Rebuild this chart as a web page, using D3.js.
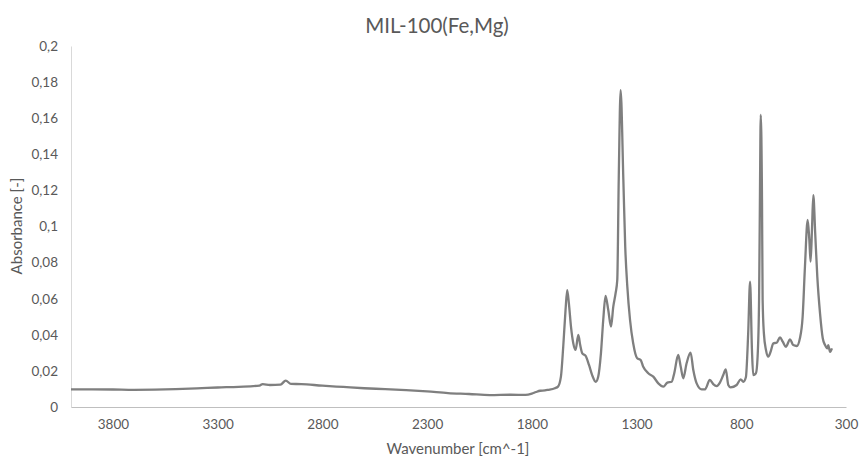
<!DOCTYPE html>
<html>
<head>
<meta charset="utf-8">
<script src="https://cdn.jsdelivr.net/npm/d3@7"></script>
<style>
  html, body { margin: 0; padding: 0; background: #fff; }
  svg { display: block; font-family: Lato, "Open Sans", sans-serif; }
</style>
</head>
<body>
<svg id="chart" width="862" height="460"></svg>
<script>
// FTIR spectrum of MIL-100(Fe,Mg): wavenumber (cm^-1) and absorbance
const wavenumber = [
  4000, 3900, 3800, 3700, 3600, 3500, 3400, 3300, 3200, 3100, 3085, 3050, 3000, 2975, 2950, 2900,
  2800, 2700, 2600, 2500, 2400, 2300, 2200, 2100, 2000, 1900, 1830, 1800, 1780, 1760, 1737, 1723,
  1690, 1675, 1661, 1650, 1639, 1631, 1623, 1613, 1602, 1591, 1578, 1569, 1559, 1543, 1527, 1512,
  1495, 1483, 1470, 1459, 1448, 1435, 1422, 1411, 1400, 1392, 1385, 1376, 1363, 1354, 1344, 1331,
  1316, 1297, 1280, 1268, 1244, 1220, 1196, 1172, 1153, 1132, 1120, 1101, 1089, 1077, 1061, 1042,
  1029, 1013, 989, 973, 950, 934, 917, 902, 886, 874, 862, 851, 822, 803, 790, 778,
  767, 758, 749, 743, 730, 722, 715, 711, 707, 701, 698, 692, 682, 671, 660, 647,
  631, 615, 602, 587, 567, 552, 535, 520, 507, 496, 483, 475, 469, 462, 456, 447,
  437, 424, 411, 400, 389, 385, 376, 367
];
const absorbance = [
  0.0098, 0.0098, 0.0097, 0.0095, 0.0096, 0.0099, 0.0103, 0.0108, 0.0112, 0.0119, 0.0127, 0.0122, 0.0124, 0.0146, 0.0128, 0.0127,
  0.0118, 0.0111, 0.0104, 0.0099, 0.0093, 0.0086, 0.0077, 0.0072, 0.0066, 0.0068, 0.0067, 0.0074, 0.0083, 0.0090, 0.0092, 0.0095,
  0.0104, 0.0113, 0.0168, 0.0334, 0.0537, 0.0648, 0.0574, 0.0445, 0.0353, 0.0316, 0.0399, 0.0343, 0.0297, 0.0283, 0.0233, 0.0177,
  0.0140, 0.0168, 0.0297, 0.0482, 0.0615, 0.0537, 0.0445, 0.0556, 0.0630, 0.0704, 0.1260, 0.1756, 0.1260, 0.0888, 0.0667, 0.0482,
  0.0353, 0.0270, 0.0260, 0.0223, 0.0187, 0.0168, 0.0131, 0.0113, 0.0135, 0.0140, 0.0187, 0.0288, 0.0223, 0.0159, 0.0242, 0.0301,
  0.0205, 0.0131, 0.0098, 0.0098, 0.0150, 0.0127, 0.0116, 0.0135, 0.0177, 0.0209, 0.0122, 0.0109, 0.0122, 0.0153, 0.0140, 0.0165,
  0.0408, 0.0694, 0.0316, 0.0177, 0.0187, 0.0279, 0.0593, 0.1147, 0.1618, 0.1147, 0.0593, 0.0408, 0.0316, 0.0279, 0.0306, 0.0353,
  0.0356, 0.0386, 0.0362, 0.0334, 0.0375, 0.0343, 0.0338, 0.0381, 0.0500, 0.0777, 0.1036, 0.0925, 0.0805, 0.0999, 0.1174, 0.0962,
  0.0722, 0.0519, 0.0381, 0.0343, 0.0325, 0.0343, 0.0306, 0.0325
];
const xTicks = [3800, 3300, 2800, 2300, 1800, 1300, 800, 300];
const yTicks = [0, 0.02, 0.04, 0.06, 0.08, 0.1, 0.12, 0.14, 0.16, 0.18, 0.2];

const titleText = "MIL-100(Fe,Mg)";
const xTitle = "Wavenumber [cm^-1]";
const yTitle = "Absorbance [-]";

const svg = d3.select("#chart");
const plot = { left: 71, right: 846, top: 46, bottom: 407 };
const textColor = "#595959";

const x = d3.scaleLinear().domain([4000, 300]).range([plot.left, plot.right]);
const y = d3.scaleLinear().domain([0, 0.2]).range([plot.bottom, plot.top]);

const commaFmt = v => String(+v.toFixed(2)).replace(".", ",");

// y axis
const yAxis = svg.append("g")
  .attr("transform", `translate(${plot.left},0)`)
  .call(d3.axisLeft(y).tickValues(yTicks).tickFormat(commaFmt).tickSize(0).tickPadding(13));
yAxis.select(".domain").attr("stroke", "#d9d9d9").attr("stroke-width", 1);
yAxis.selectAll("text").attr("fill", textColor).style("font-size", "13.5px")
  .style("font-family", "Lato, 'Open Sans', sans-serif");

// x axis
const xAxis = svg.append("g")
  .attr("transform", `translate(0,${plot.bottom})`)
  .call(d3.axisBottom(x).tickValues(xTicks).tickFormat(d3.format("d")).tickSize(0).tickPadding(12));
xAxis.select(".domain").attr("stroke", "#bfbfbf").attr("stroke-width", 1.2);
xAxis.selectAll("text").attr("fill", textColor).style("font-size", "13.5px")
  .style("font-family", "Lato, 'Open Sans', sans-serif");

// spectrum
const pts = wavenumber.map((w, i) => [w, absorbance[i]]);
const line = d3.line()
  .x(d => x(d[0]))
  .y(d => y(d[1]))
  .curve(d3.curveMonotoneX);
svg.append("path")
  .datum(pts)
  .attr("d", line)
  .attr("fill", "none")
  .attr("stroke", "#7f7f7f")
  .attr("stroke-width", 2.3)
  .attr("stroke-linejoin", "round");

// titles
svg.append("text")
  .attr("x", 437).attr("y", 33)
  .attr("text-anchor", "middle")
  .attr("fill", textColor)
  .style("font-size", "20.5px")
  .text(titleText);

svg.append("text")
  .attr("x", 458).attr("y", 454)
  .attr("text-anchor", "middle")
  .attr("fill", textColor)
  .style("font-size", "15px")
  .text(xTitle);

svg.append("text")
  .attr("transform", "translate(22,226) rotate(-90)")
  .attr("text-anchor", "middle")
  .attr("fill", textColor)
  .style("font-size", "15px")
  .text(yTitle);
</script>
</body>
</html>
